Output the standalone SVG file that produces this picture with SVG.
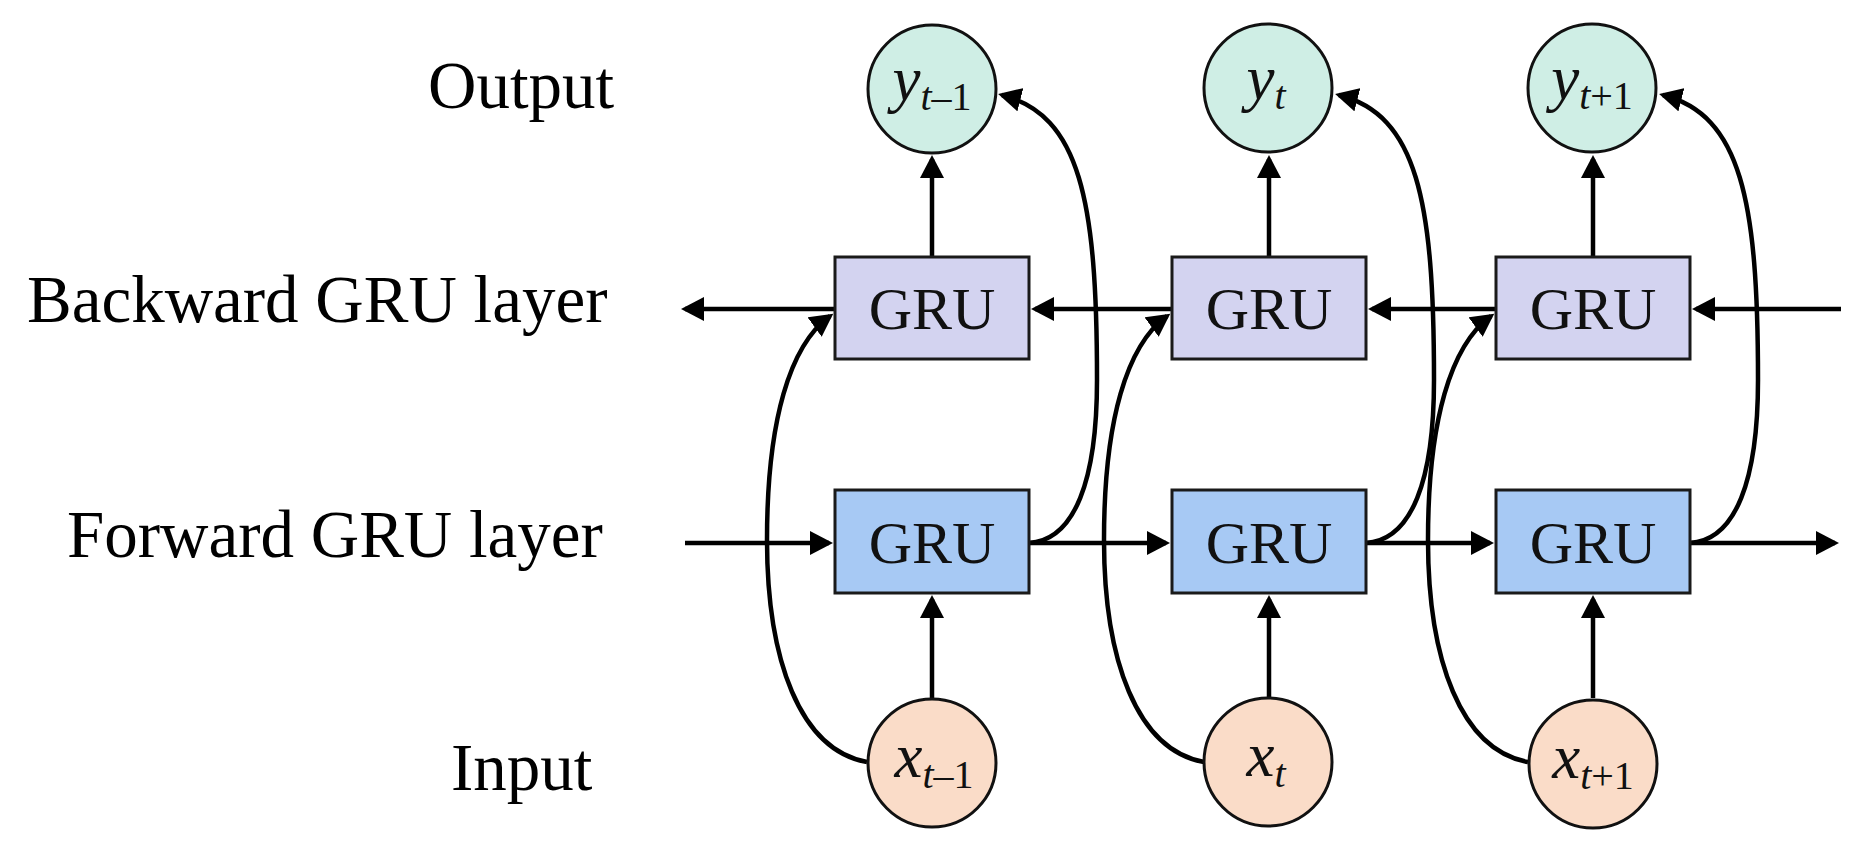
<svg xmlns="http://www.w3.org/2000/svg" width="1859" height="846" viewBox="0 0 1859 846">
<style>
  .lbl{font-family:"Liberation Serif","Times New Roman",serif;font-size:67px;fill:#000}
  .gru{font-family:"Liberation Serif","Times New Roman",serif;font-size:60px;fill:#111;text-anchor:middle}
  .var{font-family:"Liberation Serif","Times New Roman",serif;font-size:63px;fill:#111;text-anchor:middle}
  .it{font-style:italic}
  .sub{font-size:40px}
  .bw{fill:#d3d3f0;stroke:#1a1a1a;stroke-width:3}
  .fw{fill:#a7c9f4;stroke:#1a1a1a;stroke-width:3}
  .yc{fill:#cfeee5;stroke:#111;stroke-width:3}
  .xc{fill:#fadcc8;stroke:#111;stroke-width:3}
  .cn{fill:none;stroke:#000;stroke-width:4.5;marker-end:url(#ah)}
</style>
<defs>
  <marker id="ah" markerUnits="userSpaceOnUse" markerWidth="24" markerHeight="24" refX="19" refY="12" orient="auto">
    <path d="M0,0 L23,12 L0,24 z" fill="#000"/>
  </marker>
</defs>
<rect width="1859" height="846" fill="#fff"/>

<g id="labels">
  <text class="lbl" x="428" y="108">Output</text>
  <text class="lbl" x="27" y="322">Backward GRU layer</text>
  <text class="lbl" x="67" y="557">Forward GRU layer</text>
  <text class="lbl" x="451" y="790">Input</text>
</g>

<g id="connectors">
  <!-- GRU to outputs -->
  <path class="cn" d="M932,257 L932,159"/>
  <path class="cn" d="M1269,257 L1269,159"/>
  <path class="cn" d="M1593,257 L1593,159"/>
  <!-- inputs to forward GRU -->
  <path class="cn" d="M932,698 L932,599"/>
  <path class="cn" d="M1269,698 L1269,599"/>
  <path class="cn" d="M1593,698 L1593,599"/>
  <!-- forward chain -->
  <path class="cn" d="M685,543 L829,543"/>
  <path class="cn" d="M1029,543 L1166,543"/>
  <path class="cn" d="M1366,543 L1490,543"/>
  <path class="cn" d="M1690,543 L1835,543"/>
  <!-- backward chain -->
  <path class="cn" d="M1841,309 L1696,309"/>
  <path class="cn" d="M1496,309 L1372,309"/>
  <path class="cn" d="M1172,309 L1035,309"/>
  <path class="cn" d="M835,309 L685,309"/>
  <!-- inputs to backward GRU -->
  <path class="cn" d="M867,762 C800,750 767,660 767,540 C767,420 790,345 830,316"/>
  <path class="cn" d="M1204,762 C1137,750 1104,660 1104,540 C1104,420 1127,345 1167,316"/>
  <path class="cn" d="M1528,762 C1461,750 1428,660 1428,540 C1428,420 1451,345 1491,316"/>
  <!-- forward GRU to outputs -->
  <path class="cn" d="M1029,543 C1075,540 1097,480 1097,380 C1097,200 1080,115 1002,95"/>
  <path class="cn" d="M1366,543 C1412,540 1434,480 1434,380 C1434,200 1417,115 1339,95"/>
  <path class="cn" d="M1690,543 C1736,540 1758,480 1758,380 C1758,200 1741,115 1663,95"/>
</g>

<g id="y_tm1">
  <circle class="yc" cx="932" cy="89" r="64"/>
  <text class="var" x="932" y="100"><tspan class="it">y</tspan><tspan class="it sub" dy="10">t</tspan><tspan class="sub">–1</tspan></text>
</g>
<g id="y_t">
  <circle class="yc" cx="1268" cy="88" r="64"/>
  <text class="var" x="1266" y="99"><tspan class="it">y</tspan><tspan class="it sub" dy="10">t</tspan></text>
</g>
<g id="y_tp1">
  <circle class="yc" cx="1592" cy="88" r="64"/>
  <text class="var" x="1592" y="99"><tspan class="it">y</tspan><tspan class="it sub" dy="10">t</tspan><tspan class="sub">+1</tspan></text>
</g>

<g id="bgru1">
  <rect class="bw" x="835" y="257" width="194" height="102"/>
  <text class="gru" x="932" y="329">GRU</text>
</g>
<g id="bgru2">
  <rect class="bw" x="1172" y="257" width="194" height="102"/>
  <text class="gru" x="1269" y="329">GRU</text>
</g>
<g id="bgru3">
  <rect class="bw" x="1496" y="257" width="194" height="102"/>
  <text class="gru" x="1593" y="329">GRU</text>
</g>

<g id="fgru1">
  <rect class="fw" x="835" y="490" width="194" height="103"/>
  <text class="gru" x="932" y="563">GRU</text>
</g>
<g id="fgru2">
  <rect class="fw" x="1172" y="490" width="194" height="103"/>
  <text class="gru" x="1269" y="563">GRU</text>
</g>
<g id="fgru3">
  <rect class="fw" x="1496" y="490" width="194" height="103"/>
  <text class="gru" x="1593" y="563">GRU</text>
</g>

<g id="x_tm1">
  <circle class="xc" cx="932" cy="763" r="64"/>
  <text class="var" x="934" y="777"><tspan class="it">x</tspan><tspan class="it sub" dy="11">t</tspan><tspan class="sub">–1</tspan></text>
</g>
<g id="x_t">
  <circle class="xc" cx="1268" cy="762" r="64"/>
  <text class="var" x="1266" y="776"><tspan class="it">x</tspan><tspan class="it sub" dy="11">t</tspan></text>
</g>
<g id="x_tp1">
  <circle class="xc" cx="1593" cy="764" r="64"/>
  <text class="var" x="1593" y="778"><tspan class="it">x</tspan><tspan class="it sub" dy="11">t</tspan><tspan class="sub">+1</tspan></text>
</g>
</svg>
